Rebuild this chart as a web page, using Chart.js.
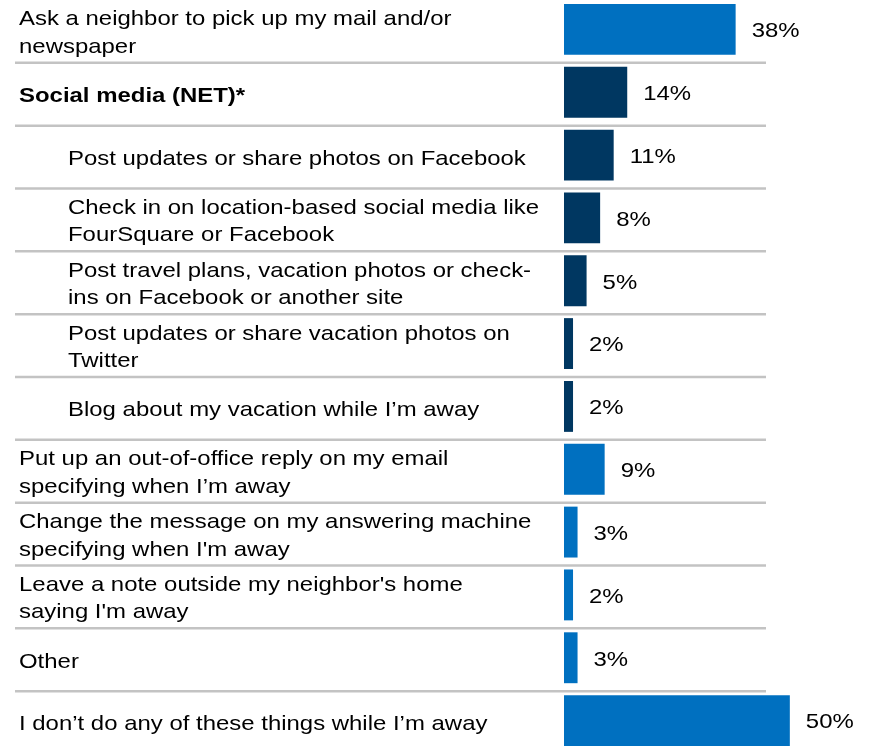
<!DOCTYPE html>
<html>
<head>
<meta charset="utf-8">
<script src="https://cdn.jsdelivr.net/npm/chart.js@4"></script>
<style>
  html, body { margin: 0; padding: 0; background: #ffffff; overflow: hidden; }
  #c { display: block; margin-top: -2px; }
</style>
</head>
<body>
<canvas id="c" width="870" height="754"></canvas>
<script>
// ---- Data ----
const categories = [
  ["Ask a neighbor to pick up my mail and/or", "newspaper"],
  ["Social media (NET)*"],
  ["Post updates or share photos on Facebook"],
  ["Check in on location-based social media like", "FourSquare or Facebook"],
  ["Post travel plans, vacation photos or check-", "ins on Facebook or another site"],
  ["Post updates or share vacation photos on", "Twitter"],
  ["Blog about my vacation while I\u2019m away"],
  ["Put up an out-of-office reply on my email", "specifying when I\u2019m away"],
  ["Change the message on my answering machine", "specifying when I'm away"],
  ["Leave a note outside my neighbor's home", "saying I'm away"],
  ["Other"],
  ["I don\u2019t do any of these things while I\u2019m away"]
];
// hierarchy level: 0 = top-level item, 1 = net group, 2 = sub-item of net
const levels = [0, 1, 2, 2, 2, 2, 2, 0, 0, 0, 0, 0];
const values = [38, 14, 11, 8, 5, 2, 2, 9, 3, 2, 3, 50];
const valueSuffix = "%";

// ---- Styling ----
const LIGHT = "#0070C0";
const DARK = "#003761";
const FONT = "'Liberation Sans', Arial, Helvetica, sans-serif";
const FONT_PX = 21;
const STRETCH = 1.14;   // horizontal stretch of the reference's lettering
const LINE_H = 27.5;
const LABEL_SHIFT = 4;
const SEP_SHIFT = 2;

const barColors = levels.map(l => (l === 0 ? LIGHT : DARK));

function drawText(ctx, t, x, y) {
  ctx.save();
  ctx.translate(x, y);
  ctx.scale(STRETCH, 1);
  ctx.fillText(t, 0, 0);
  ctx.restore();
}

const decorPlugin = {
  id: "decor",
  beforeDatasetsDraw(chart) {
    const ctx = chart.ctx;
    const yScale = chart.scales.y;
    ctx.save();
    ctx.strokeStyle = "#c3c3c3";
    ctx.lineWidth = 2.5;
    for (let i = 0; i < categories.length - 1; i++) {
      const y = yScale.getPixelForValue(i + 0.5) + SEP_SHIFT;
      ctx.beginPath();
      ctx.moveTo(15, y);
      ctx.lineTo(766, y);
      ctx.stroke();
    }
    ctx.restore();
  },
  afterDraw(chart) {
    const ctx = chart.ctx;
    const meta = chart.getDatasetMeta(0);
    ctx.save();
    ctx.fillStyle = "#000000";
    ctx.textBaseline = "middle";
    ctx.textAlign = "left";
    meta.data.forEach((bar, i) => {
      const lines = categories[i];
      const lvl = levels[i];
      ctx.font = (lvl === 1 ? "bold " : "") + FONT_PX + "px " + FONT;
      const x = lvl === 2 ? 68 : 19;
      const cy = bar.y + LABEL_SHIFT;
      lines.forEach((t, j) => {
        drawText(ctx, t, x, cy + (j - (lines.length - 1) / 2) * LINE_H);
      });
      ctx.font = FONT_PX + "px " + FONT;
      drawText(ctx, values[i] + valueSuffix, bar.x + 16, bar.y + 2);
    });
    ctx.restore();
  }
};

new Chart(document.getElementById("c"), {
  type: "bar",
  data: {
    labels: categories,
    datasets: [{
      data: values,
      backgroundColor: barColors,
      borderWidth: 0,
      categoryPercentage: 1.0,
      barPercentage: 0.81
    }]
  },
  options: {
    indexAxis: "y",
    responsive: false,
    animation: false,
    layout: { padding: { left: 564, right: 35, top: 0, bottom: 0 } },
    plugins: { legend: { display: false }, tooltip: { enabled: false } },
    scales: {
      x: { display: false, min: 0, max: 60 },
      y: { display: false }
    }
  },
  plugins: [decorPlugin]
});
</script>
</body>
</html>
